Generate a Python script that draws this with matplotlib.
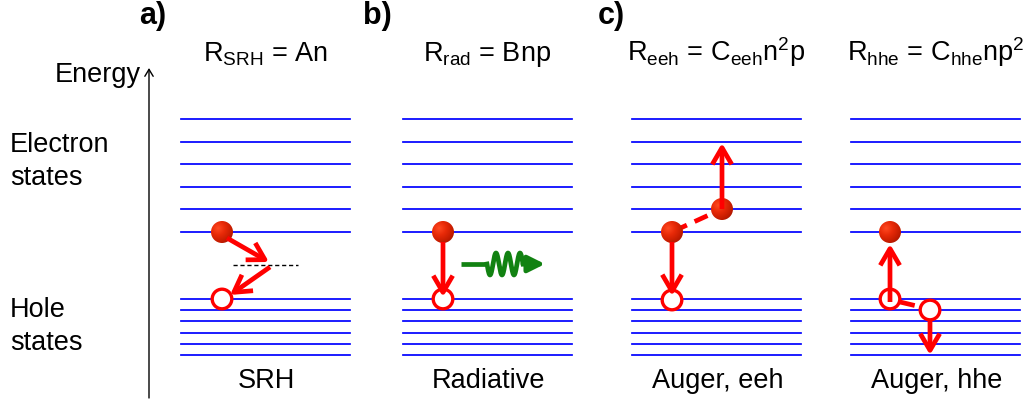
import numpy as np
import matplotlib
matplotlib.use("Agg")
import matplotlib.pyplot as plt
from matplotlib.patches import Circle, FancyArrowPatch, ArrowStyle
from matplotlib.colors import LinearSegmentedColormap

plt.rcParams["font.family"] = ["Liberation Sans", "DejaVu Sans"]
plt.rcParams["mathtext.fontset"] = "custom"
plt.rcParams["mathtext.rm"] = "Liberation Sans"
plt.rcParams["mathtext.it"] = "Liberation Sans:italic"

# ---- diagram layout (pixel units, y grows downward) ----
electron_levels = [119, 142, 164, 187, 209, 232]
hole_levels = [299, 310, 321, 332.5, 344, 355]
panel_left = [181, 403, 632, 851]
panel_width = 169

panel_letters = ["a)", "b)", "c)"]
panel_letter_x = [153, 377, 611]

rate_labels = [r"R$_{\mathrm{SRH}}$ = An",
               r"R$_{\mathrm{rad}}$ = Bnp",
               r"R$_{\mathrm{eeh}}$ = C$_{\mathrm{eeh}}$n$^{\mathrm{2}}$p",
               r"R$_{\mathrm{hhe}}$ = C$_{\mathrm{hhe}}$np$^{\mathrm{2}}$"]
process_labels = ["SRH", "Radiative", "Auger, eeh", "Auger, hhe"]

# carriers: electrons (filled spheres) and holes (open circles)
electrons = [(222, 232), (443, 232), (672, 232), (722, 209), (890, 232)]
holes = [(222, 299), (443, 299), (672, 300), (890, 299), (930, 310)]

# transitions (start, end)
transitions = [((227, 238), (269, 262)),
               ((270, 267), (230, 295)),
               ((443, 242), (443, 297)),
               ((672, 242), (672, 296)),
               ((722, 209), (722, 143)),
               ((890, 302), (890, 244)),
               ((930, 320), (930, 355))]
trap_level = ((233, 298), 265)
auger_links = [((674, 231), (722, 209)), ((900, 302), (921, 307))]

W, H = 1031, 404
fig = plt.figure(figsize=(W / 100, H / 100), dpi=100)
ax = fig.add_axes([0, 0, 1, 1])
ax.set_xlim(0, W)
ax.set_ylim(H, 0)
ax.axis("off")

RED = "#ff0000"
BLUE = "#0000ff"
FS = 19.5

# energy levels
for x0 in panel_left:
    for y in electron_levels + hole_levels:
        ax.plot([x0, x0 + panel_width], [y, y], color=BLUE, lw=1.25, zorder=1)

# energy axis
ax.add_patch(FancyArrowPatch((149, 398), (149, 68),
                             arrowstyle=ArrowStyle("->", head_length=5, head_width=3),
                             mutation_scale=1, lw=1.0, color="black", shrinkA=0, shrinkB=0))
ax.text(141, 82, "Energy", ha="right", va="baseline", fontsize=FS)
ax.text(10, 152, "Electron", ha="left", va="baseline", fontsize=FS)
ax.text(10, 185, "states", ha="left", va="baseline", fontsize=FS)
ax.text(10, 317, "Hole", ha="left", va="baseline", fontsize=FS)
ax.text(10, 350, "states", ha="left", va="baseline", fontsize=FS)

for lbl, x in zip(panel_letters, panel_letter_x):
    ax.text(x, 24, lbl, ha="center", va="baseline", fontsize=22, fontweight="bold")

for i, x0 in enumerate(panel_left):
    cx = x0 + panel_width / 2
    ax.text(cx, 61, rate_labels[i], ha="center", va="baseline", fontsize=FS)
    ax.text(cx + 1, 388, process_labels[i], ha="center", va="baseline", fontsize=FS)

# trap level for SRH
(tx0, tx1), ty = trap_level
ax.plot([tx0, tx1], [ty, ty], color="black", lw=1.0, ls=(0, (3, 2)), zorder=2)

# shaded electron spheres
sphere_cmap = LinearSegmentedColormap.from_list(
    "sphere", ["#ff4a22", "#e82a08", "#c41c00", "#8c1000"])
R_E = 11
g = np.linspace(-1, 1, 80)
gx, gy = np.meshgrid(g, g)
shade = np.hypot(gx + 0.35, gy + 0.35) / 1.9
for (ex, ey) in electrons:
    im = ax.imshow(shade, cmap=sphere_cmap, vmin=0, vmax=1,
                   extent=(ex - R_E, ex + R_E, ey + R_E, ey - R_E),
                   interpolation="bilinear", zorder=3)
    clip = Circle((ex, ey), R_E, transform=ax.transData)
    im.set_clip_path(clip)
ax.set_xlim(0, W)
ax.set_ylim(H, 0)

# holes
for (hx, hy) in holes:
    ax.add_patch(Circle((hx, hy), 9.8, facecolor="white", edgecolor=RED,
                        lw=2.4, zorder=4))

# transition arrows
for (p0, p1) in transitions:
    ax.add_patch(FancyArrowPatch(p0, p1,
                                 arrowstyle=ArrowStyle("->", head_length=12, head_width=7),
                                 mutation_scale=1, lw=3.4, color=RED,
                                 shrinkA=0, shrinkB=0, capstyle="butt", zorder=5))

# Auger partner links
ax.plot(*zip(*auger_links[0]), color=RED, lw=3.4, ls=(0, (3.0, 1.8)), zorder=2.5,
        dash_capstyle="butt")
ax.plot(*zip(*auger_links[1]), color=RED, lw=3.4, ls=(0, (3.2, 2)), zorder=5,
        dash_capstyle="butt")

# photon emission
GREEN = "#128212"
wx0, wx1, wy = 487, 523, 264
xs = np.linspace(wx0, wx1, 200)
ys = wy + 11 * np.sin(2 * np.pi * (xs - wx0) / 12)
ax.plot([461, wx0], [wy, wy], color=GREEN, lw=3.4, solid_capstyle="butt")
ax.plot(xs, ys, color=GREEN, lw=3.4, solid_joinstyle="round")
ax.add_patch(FancyArrowPatch((wx1, wy), (545, wy),
                             arrowstyle=ArrowStyle("-|>", head_length=10, head_width=5),
                             mutation_scale=1, lw=3.4, color=GREEN,
                             shrinkA=0, shrinkB=0))

fig.savefig("out.png", dpi=100)
